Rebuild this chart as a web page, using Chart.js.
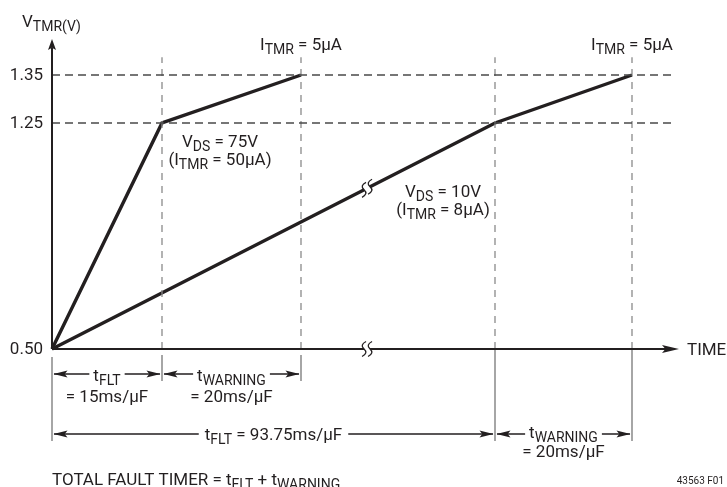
<!DOCTYPE html>
<html>
<head>
<meta charset="utf-8">
<script src="https://cdn.jsdelivr.net/npm/chart.js@4.4.1/dist/chart.umd.min.js"></script>
<style>
  html, body { margin: 0; padding: 0; background: #fff; }
  canvas { display: block; }
</style>
</head>
<body>
<canvas id="timerChart" width="727" height="487"></canvas>
<script>
// fault timer ramps, time in ms/uF, V_TMR in volts
const time75 = [0, 15, 35]
const vtmr75 = [0.50, 1.25, 1.35]
const time10 = [0, 93.75, 113.75]
const vtmr10 = [0.50, 1.25, 1.35]
const yTicks = [0.50, 1.25, 1.35]
const levels = [1.25, 1.35]
const markTimes = [15, 35, 93.75, 113.75]
const breakTime = 55

// schematic (not to scale) axes: value -> layout unit
const xKnots = [[0, 0], [15, 110], [35, 249], [93.75, 443], [113.75, 580], [120.6, 627]]
const yKnots = [[0.5, 0], [1.25, 226], [1.35, 274], [1.423, 309]]

const INK = "#231f20"
const MAIN = '17px "Roboto", sans-serif'
const SUB = '14px "Roboto", sans-serif'

class KnotScale extends Chart.LinearScale {
  static id = "knot"
  static defaults = Chart.LinearScale.defaults

  toUnit(v) {
    const k = this.options.knots
    for (let i = 1; i < k.length; i++) {
      if (v <= k[i][0] || i === k.length - 1) {
        const [v0, u0] = k[i - 1]
        const [v1, u1] = k[i]
        return u0 + ((v - v0) * (u1 - u0)) / (v1 - v0)
      }
    }
    return 0
  }

  getPixelForValue(value) {
    if (value === null || value === undefined) return NaN
    const k = this.options.knots
    return this.getPixelForDecimal(this.toUnit(value) / k[k.length - 1][1])
  }

  getValueForPixel(pixel) {
    const k = this.options.knots
    const u = this.getDecimalForPixel(pixel) * k[k.length - 1][1]
    for (let i = 1; i < k.length; i++) {
      if (u <= k[i][1] || i === k.length - 1) {
        const [v0, u0] = k[i - 1]
        const [v1, u1] = k[i]
        return v0 + ((u - u0) * (v1 - v0)) / (u1 - u0)
      }
    }
    return 0
  }
}
Chart.register(KnotScale)

const toPoints = (xs, ys) => xs.map((t, i) => ({ x: t, y: ys[i] }))

const levelEnd = 119.7
const markTop = 1.387

const levelSets = levels.map((v) => ({
  data: [{ x: 0, y: v }, { x: levelEnd, y: v }],
  borderColor: "#4a4a4a",
  borderWidth: 1.3,
  borderDash: [8, 5],
  clip: false,
}))

const markSets = markTimes.map((t) => ({
  data: [{ x: t, y: 0.5 }, { x: t, y: markTop }],
  borderColor: "#8a8a8a",
  borderWidth: 1.3,
  borderDash: [7, 6],
  clip: false,
}))

const rampSets = [
  { label: "VDS = 75V", data: toPoints(time75, vtmr75) },
  { label: "VDS = 10V", data: toPoints(time10, vtmr10) },
].map((d) => ({ ...d, borderColor: INK, borderWidth: 3.4, borderJoinStyle: "miter", clip: false }))

function richText(ctx, parts, x, y, align) {
  const widths = parts.map(([t, sub]) => {
    ctx.font = sub ? SUB : MAIN
    return ctx.measureText(t).width
  })
  const total = widths.reduce((a, b) => a + b, 0)
  let cx = align === "center" ? x - total / 2 : align === "right" ? x - total : x
  const left = cx
  parts.forEach(([t, sub], i) => {
    ctx.font = sub ? SUB : MAIN
    ctx.fillText(t, cx, sub ? y + 4 : y)
    cx += widths[i]
  })
  return { left, right: cx }
}

function arrowHead(ctx, tipX, tipY, dir, len, half) {
  ctx.beginPath()
  if (dir === "left" || dir === "right") {
    const s = dir === "left" ? 1 : -1
    ctx.moveTo(tipX, tipY)
    ctx.lineTo(tipX + s * len, tipY - half)
    ctx.lineTo(tipX + s * len * 0.8, tipY)
    ctx.lineTo(tipX + s * len, tipY + half)
  } else {
    ctx.moveTo(tipX, tipY)
    ctx.lineTo(tipX - half, tipY + len)
    ctx.lineTo(tipX, tipY + len * 0.8)
    ctx.lineTo(tipX + half, tipY + len)
  }
  ctx.closePath()
  ctx.fill()
}

function dimension(ctx, xa, xb, y, parts, gap, lift) {
  const r = richText(ctx, parts, (xa + xb) / 2, y + lift, "center")
  ctx.lineWidth = 1.3
  ctx.beginPath()
  ctx.moveTo(xa + 2, y)
  ctx.lineTo(r.left - gap, y)
  ctx.moveTo(r.right + gap, y)
  ctx.lineTo(xb - 2, y)
  ctx.stroke()
  arrowHead(ctx, xa + 1.5, y, "left", 14, 3.5)
  arrowHead(ctx, xb - 1.5, y, "right", 14, 3.5)
}

function squiggle(ctx, cx, cy, slope) {
  ctx.save()
  ctx.strokeStyle = "#fff"
  ctx.lineWidth = 7
  ctx.beginPath()
  ctx.moveTo(cx - 3, cy - slope * 3)
  ctx.lineTo(cx + 3, cy + slope * 3)
  ctx.stroke()
  ctx.strokeStyle = INK
  ctx.lineWidth = 1.3
  for (const sx of [cx - 3, cx + 3]) {
    const sy = cy + slope * (sx - cx)
    ctx.beginPath()
    ctx.moveTo(sx + 2, sy - 7.5)
    ctx.quadraticCurveTo(sx - 4.5, sy - 4, sx, sy)
    ctx.quadraticCurveTo(sx + 4.5, sy + 4, sx - 2, sy + 7.5)
    ctx.stroke()
  }
  ctx.restore()
}

const diagram = {
  id: "diagram",
  afterDatasetsDraw(chart) {
    const { ctx, chartArea, scales } = chart
    const x = scales.x
    const y = scales.y
    const x0 = x.getPixelForValue(0)
    const y0 = y.getPixelForValue(0.5)
    const mx = markTimes.map((t) => x.getPixelForValue(t))

    ctx.save()
    ctx.fillStyle = INK
    ctx.strokeStyle = INK
    ctx.textBaseline = "alphabetic"
    ctx.textAlign = "left"

    // axes
    ctx.lineWidth = 2
    ctx.beginPath()
    ctx.moveTo(x0, y0)
    ctx.lineTo(x0, chartArea.top + 8)
    ctx.moveTo(x0, y0)
    ctx.lineTo(chartArea.right - 10, y0)
    ctx.stroke()
    arrowHead(ctx, x0, chartArea.top - 1, "up", 11, 4)
    arrowHead(ctx, chartArea.right, y0, "right", 17, 4)

    // break marks
    squiggle(ctx, x.getPixelForValue(breakTime), y0, 0)
    const lx0 = x.getPixelForValue(time10[0])
    const ly0 = y.getPixelForValue(vtmr10[0])
    const lx1 = x.getPixelForValue(time10[1])
    const ly1 = y.getPixelForValue(vtmr10[1])
    const slope = (ly1 - ly0) / (lx1 - lx0)
    const bx = x.getPixelForValue(breakTime)
    squiggle(ctx, bx, ly0 + slope * (bx - lx0), slope)

    // extension lines below the time axis
    ctx.strokeStyle = "#777"
    ctx.lineWidth = 1.3
    ctx.beginPath()
    ctx.moveTo(x0, y0 + 8)
    ctx.lineTo(x0, y0 + 92)
    ctx.moveTo(mx[0], y0 + 6)
    ctx.lineTo(mx[0], y0 + 32)
    ctx.moveTo(mx[1], y0 + 6)
    ctx.lineTo(mx[1], y0 + 32)
    ctx.moveTo(mx[2], y0 + 1)
    ctx.lineTo(mx[2], y0 + 92)
    ctx.moveTo(mx[3], y0 + 1)
    ctx.lineTo(mx[3], y0 + 92)
    ctx.stroke()
    ctx.strokeStyle = INK

    // y ticks
    ctx.font = MAIN
    ctx.textAlign = "right"
    ctx.textBaseline = "middle"
    yTicks.forEach((v) => ctx.fillText(v.toFixed(2), x0 - 9, y.getPixelForValue(v) + 1))
    ctx.textAlign = "left"
    ctx.textBaseline = "alphabetic"

    // axis titles
    richText(ctx, [["V"], ["TMR(V)", true]], 22, 27, "left")
    richText(ctx, [["TIME"]], chartArea.right + 8, y0 + 6, "left")

    // current labels at end of ramps
    richText(ctx, [["I"], ["TMR", true], [" = 5µA"]], mx[1], 50, "center")
    richText(ctx, [["I"], ["TMR", true], [" = 5µA"]], mx[3], 50, "center")

    const k75x = x.getPixelForValue(time75[1])
    const k75y = y.getPixelForValue(vtmr75[1])
    richText(ctx, [["V"], ["DS", true], [" = 75V"]], k75x + 58, k75y + 24, "center")
    richText(ctx, [["(I"], ["TMR", true], [" = 50µA)"]], k75x + 58, k75y + 42, "center")

    const k10x = x.getPixelForValue(time10[1])
    const k10y = y.getPixelForValue(vtmr10[1])
    richText(ctx, [["V"], ["DS", true], [" = 10V"]], k10x - 52, k10y + 74, "center")
    richText(ctx, [["(I"], ["TMR", true], [" = 8µA)"]], k10x - 52, k10y + 92, "center")

    // timing dimensions
    dimension(ctx, x0, mx[0], y0 + 25, [["t"], ["FLT", true]], 4, 7)
    richText(ctx, [["= 15ms/µF"]], (x0 + mx[0]) / 2, y0 + 53, "center")
    dimension(ctx, mx[0], mx[1], y0 + 25, [["t"], ["WARNING", true]], 4, 7)
    richText(ctx, [["= 20ms/µF"]], (mx[0] + mx[1]) / 2, y0 + 53, "center")
    dimension(ctx, x0, mx[2], y0 + 85, [["t"], ["FLT", true], [" = 93.75ms/µF"]], 6, 6)
    dimension(ctx, mx[2], mx[3], y0 + 85, [["t"], ["WARNING", true]], 4, 4)
    richText(ctx, [["= 20ms/µF"]], (mx[2] + mx[3]) / 2, y0 + 108, "center")

    richText(ctx, [["TOTAL FAULT TIMER = t"], ["FLT", true], [" + t"], ["WARNING", true]], x0, 485, "left")

    ctx.font = '10px "Roboto", sans-serif'
    ctx.textAlign = "right"
    ctx.fillText("43563 F01", 724, 484)
    ctx.restore()
  },
}

new Chart(document.getElementById("timerChart"), {
  type: "line",
  data: { datasets: [...levelSets, ...markSets, ...rampSets] },
  options: {
    responsive: false,
    animation: false,
    layout: { padding: { left: 52, right: 48, top: 40, bottom: 138 } },
    elements: { point: { radius: 0 }, line: { tension: 0 } },
    plugins: { legend: { display: false }, tooltip: { enabled: false } },
    scales: {
      x: { type: "knot", min: 0, max: 120.6, knots: xKnots, display: false },
      y: { type: "knot", min: 0.5, max: 1.423, knots: yKnots, display: false },
    },
  },
  plugins: [diagram],
})
</script>
</body>
</html>
